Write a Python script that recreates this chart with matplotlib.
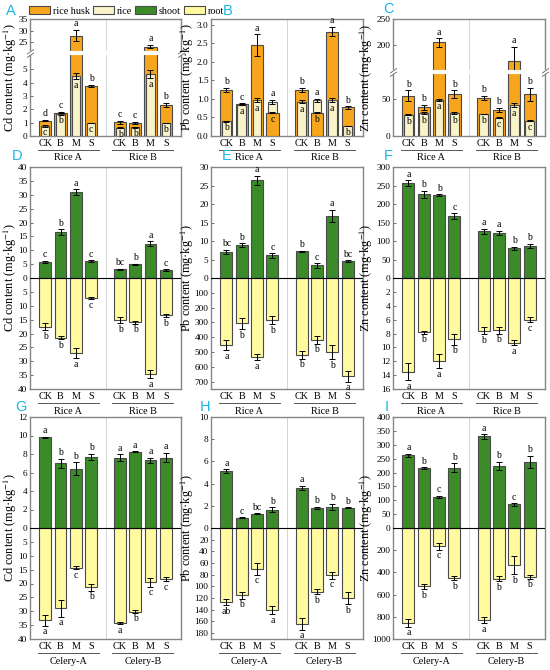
import numpy as np
import matplotlib
matplotlib.use("Agg")
import matplotlib.pyplot as plt
from matplotlib import transforms
from matplotlib.patches import Patch
from matplotlib.path import Path as MPath

plt.rcParams['font.family'] = ['Liberation Serif', 'DejaVu Serif']
plt.rcParams['mathtext.fontset'] = 'stix'

# ---- data ----
treatments = ['CK', 'B', 'M', 'S']
rice_groups = ['Rice A', 'Rice B']
celery_groups = ['Celery-A', 'Celery-B']

# top row: rice husk vs rice grain
cd_husk = [1.15, 1.74, 27.8, 3.75, 1.02, 0.98, 23.1, 2.35]
cd_husk_err = [0.06, 0.06, 2.5, 0.08, 0.10, 0.10, 0.8, 0.15]
cd_husk_let = ['d', 'c', 'a', 'b', 'c', 'c', 'a', 'b']
cd_rice = [0.75, 1.65, 4.5, 0.97, 0.62, 0.65, 4.65, 0.97]
cd_rice_err = [0.04, 0.05, 0.25, 0.03, 0.03, 0.03, 0.3, 0.03]
cd_rice_let = ['c', 'b', 'a', 'c', 'b', 'b', 'a', 'b']

pb_husk = [1.25, 0.86, 2.45, 0.63, 1.25, 0.63, 2.82, 0.77]
pb_husk_err = [0.05, 0.02, 0.30, 0.02, 0.05, 0.02, 0.12, 0.03]
pb_husk_let = ['b', 'c', 'a', 'c', 'b', 'b', 'a', 'b']
pb_rice = [0.40, 0.85, 0.97, 0.92, 0.93, 0.97, 0.97, 0.27]
pb_rice_err = [0.01, 0.02, 0.05, 0.05, 0.05, 0.04, 0.05, 0.01]
pb_rice_let = ['b', 'a', 'a', 'a', 'a', 'a', 'a', 'b']

zn_husk = [55, 39, 205, 57, 52, 35, 170, 57]
zn_husk_err = [7, 3, 8, 5, 3, 3, 27, 9]
zn_husk_let = ['b', 'b', 'a', 'b', 'b', 'b', 'a', 'b']
zn_rice = [29, 31, 49, 31, 30, 25, 42, 21]
zn_rice_err = [1, 1, 1, 1, 0.5, 1, 3, 1]
zn_rice_let = ['b', 'b', 'a', 'b', 'b', 'c', 'a', 'c']

# middle row: rice shoot / root
cd_shoot_r = [5.8, 16.5, 31.0, 6.0, 3.2, 5.0, 12.3, 2.8]
cd_shoot_r_err = [0.4, 1.0, 1.0, 0.4, 0.2, 0.2, 0.9, 0.3]
cd_shoot_r_let = ['c', 'b', 'a', 'c', 'bc', 'b', 'a', 'c']
cd_root_r = [17.5, 21.5, 27.0, 7.3, 15.2, 16.0, 34.5, 13.5]
cd_root_r_err = [1.2, 0.6, 1.8, 0.3, 1.0, 0.4, 1.5, 0.6]
cd_root_r_let = ['b', 'b', 'a', 'c', 'b', 'b', 'a', 'b']

pb_shoot_r = [7.1, 8.9, 26.4, 6.1, 7.2, 3.4, 16.8, 4.6]
pb_shoot_r_err = [0.5, 0.5, 1.3, 0.6, 0.2, 0.6, 1.7, 0.2]
pb_shoot_r_let = ['bc', 'b', 'a', 'c', 'b', 'c', 'a', 'bc']
pb_root_r = [453, 307, 535, 285, 520, 418, 500, 665]
pb_root_r_err = [35, 40, 20, 25, 25, 25, 50, 35]
pb_root_r_let = ['a', 'b', 'a', 'b', 'b', 'b', 'b', 'a']

zn_shoot_r = [256, 226, 224, 167, 126, 122, 81, 86]
zn_shoot_r_err = [8, 10, 2, 8, 6, 6, 4, 6]
zn_shoot_r_let = ['a', 'b', 'b', 'c', 'a', 'a', 'b', 'b']
zn_root_r = [13.5, 7.8, 12.0, 8.8, 7.6, 7.5, 9.3, 6.0]
zn_root_r_err = [1.2, 0.2, 1.0, 0.8, 0.5, 0.5, 0.4, 0.4]
zn_root_r_let = ['a', 'b', 'a', 'b', 'b', 'b', 'a', 'c']

# bottom row: celery shoot / root
cd_shoot_c = [9.8, 7.0, 6.4, 7.7, 7.6, 8.25, 7.3, 7.6]
cd_shoot_c_err = [0.05, 0.5, 0.7, 0.35, 0.35, 0.05, 0.3, 0.5]
cd_shoot_c_let = ['a', 'b', 'b', 'b', 'a', 'a', 'a', 'a']
cd_root_c = [33.2, 29.0, 14.3, 21.4, 34.2, 30.1, 19.6, 18.3]
cd_root_c_err = [2.0, 3.0, 0.6, 1.2, 0.4, 0.4, 1.5, 0.8]
cd_root_c_let = ['a', 'a', 'c', 'b', 'a', 'b', 'c', 'c']

pb_shoot_c = [5.15, 0.92, 1.3, 1.65, 3.6, 1.82, 1.9, 1.84]
pb_shoot_c_err = [0.15, 0.05, 0.02, 0.2, 0.2, 0.1, 0.25, 0.03]
pb_shoot_c_let = ['a', 'c', 'bc', 'b', 'a', 'b', 'b', 'b']
pb_root_c = [127, 115, 70, 140, 164, 109, 81, 120]
pb_root_c_err = [5, 6, 10, 7, 10, 4, 6, 10]
pb_root_c_let = ['ab', 'b', 'c', 'a', 'a', 'b', 'c', 'b']

zn_shoot_c = [262, 215, 112, 218, 330, 224, 85, 238]
zn_shoot_c_err = [5, 4, 3, 15, 8, 15, 4, 22]
zn_shoot_c_let = ['a', 'b', 'c', 'b', 'a', 'b', 'c', 'b']
zn_root_c = [855, 525, 165, 450, 830, 455, 335, 440]
zn_root_c_err = [35, 25, 30, 20, 25, 25, 80, 15]
zn_root_c_let = ['a', 'b', 'c', 'b', 'a', 'b', 'b', 'b']

# ---- style ----
C_HUSK, C_RICE = '#F7A51C', '#F8F3C8'
C_SHOOT, C_ROOT = '#3B8C28', '#FFFB9E'
EDGE = '#4a4a4a'
CYAN = '#19B4E6'
W, H = 550, 670
xpos = np.array([0, 1, 2, 3, 4.9, 5.9, 6.9, 7.9])
cols = [(30, 181), (211, 363), (393, 545)]
rows = [(19, 136), (167, 389), (417, 639)]
ylab_x = [10, 187, 366]


def make_ax(r, c):
    (x0, x1), (y0, y1) = cols[c], rows[r]
    return fig.add_axes([x0 / W, 1 - y1 / H, (x1 - x0) / W, (y1 - y0) / H])


def split_scale(k):        # positive side as is, negative side multiplied by k
    def fwd(y):
        y = np.asarray(y, float)
        return np.where(y >= 0, y, y * k)

    def inv(t):
        t = np.asarray(t, float)
        return np.where(t >= 0, t, t / k)
    return fwd, inv


def broken_scale(b1, b2, k, eps=1e-3):
    g = b1 + (b2 - b1) * eps

    def fwd(y):
        y = np.asarray(y, float)
        return np.where(y <= b1, y, np.where(y < b2, b1 + (y - b1) * eps, g + (y - b2) * k))

    def inv(t):
        t = np.asarray(t, float)
        return np.where(t <= b1, t, np.where(t < g, b1 + (t - b1) / eps, b2 + (t - g) / k))
    return fwd, inv


def common(ax, groups, c, ylabel):
    ax.set_xlim(-1, 8.9)
    ax.axvline(3.95, color='#d4d4d4', lw=0.7, zorder=0)
    for s in ax.spines.values():
        s.set_color('#858585')
        s.set_linewidth(1.0)
    ax.tick_params(axis='y', direction='in', length=2.5, width=0.6, labelsize=6.7, pad=1.8,
                   color='#555555')
    ax.tick_params(axis='x', length=0, labelsize=7.3, pad=2.5)
    ax.set_xticks(xpos)
    ax.set_xticklabels(treatments * 2)
    ax.yaxis.set_minor_locator(matplotlib.ticker.NullLocator())
    bt = transforms.blended_transform_factory(ax.transData, ax.transAxes)
    for gi, gname in enumerate(groups):
        xs = xpos[gi * 4:(gi + 1) * 4]
        ax.plot([xs[0] - 0.5, xs[-1] + 0.5], [0, 0], color='#555555', lw=0.7, clip_on=False,
                transform=bt + transforms.ScaledTranslation(0, -0.14, fig.dpi_scale_trans))
        ax.text(xs.mean(), 0, gname, ha='center', va='center', fontsize=7.3,
                transform=bt + transforms.ScaledTranslation(0, -0.22, fig.dpi_scale_trans))
    x0, x1 = cols[c]
    ax.set_ylabel(ylabel, fontsize=8.8, va='center')
    ax.yaxis.set_label_coords((ylab_x[c] - x0) / (x1 - x0), 0.5)


def letter(ax, x, y, s, up=True):
    ax.annotate(s, (x, y), xytext=(0, 1.2 if up else -1.2), textcoords='offset points',
                ha='center', va='bottom' if up else 'top', fontsize=7, zorder=8)


def top_panel(ax, husk, husk_err, husk_let, rice, rice_err, rice_let):
    for i, x in enumerate(xpos):
        hz, rz = (2, 3) if husk[i] >= rice[i] else (3, 2)
        ax.bar(x, husk[i], 0.8, color=C_HUSK, edgecolor=EDGE, lw=0.8, zorder=hz)
        ax.errorbar(x, husk[i], husk_err[i], fmt='none', ecolor='k', elinewidth=0.7,
                    capsize=2, capthick=0.7, zorder=hz + 0.5)
        ax.bar(x, rice[i], 0.55, color=C_RICE, edgecolor=EDGE, lw=0.8, zorder=rz)
        ax.errorbar(x, rice[i], rice_err[i], fmt='none', ecolor='k', elinewidth=0.7,
                    capsize=2, capthick=0.7, zorder=rz + 0.5)
        if husk[i] >= rice[i]:
            letter(ax, x, husk[i] + husk_err[i], husk_let[i], True)
            letter(ax, x, rice[i] - rice_err[i], rice_let[i], False)
        else:
            letter(ax, x, rice[i] + rice_err[i], rice_let[i], True)
            letter(ax, x, husk[i] - husk_err[i], husk_let[i], False)


def add_break(ax, b1):
    bt = transforms.blended_transform_factory(ax.transAxes, ax.transData)
    ax.plot([-0.012, 1.012], [b1, b1], color='white', lw=3, transform=bt, clip_on=False,
            zorder=6, solid_capstyle='butt')
    mk = MPath([(-1, -1.2), (1, 0.2), (-1, -0.2), (1, 1.2)],
               [MPath.MOVETO, MPath.LINETO, MPath.MOVETO, MPath.LINETO])
    ax.plot([0, 1], [b1, b1], ls='none', marker=mk, ms=6, mec='#666666', mew=0.6,
            transform=bt, clip_on=False, zorder=7)


def updown_panel(ax, shoot, shoot_err, shoot_let, root, root_err, root_let):
    ax.bar(xpos, shoot, 0.78, color=C_SHOOT, edgecolor=EDGE, lw=0.8, zorder=2)
    ax.errorbar(xpos, shoot, shoot_err, fmt='none', ecolor='k', elinewidth=0.7,
                capsize=2, capthick=0.7, zorder=3)
    neg = -np.asarray(root, float)
    ax.bar(xpos, neg, 0.78, color=C_ROOT, edgecolor=EDGE, lw=0.8, zorder=2)
    ax.errorbar(xpos, neg, root_err, fmt='none', ecolor='k', elinewidth=0.7,
                capsize=2, capthick=0.7, zorder=3)
    ax.axhline(0, color='black', lw=0.8, zorder=4)
    for i, x in enumerate(xpos):
        letter(ax, x, shoot[i] + shoot_err[i], shoot_let[i], True)
        letter(ax, x, neg[i] - root_err[i], root_let[i], False)


def set_updown_ticks(ax, top, bottom, pos_ticks, neg_ticks):
    ax.set_yscale('function', functions=split_scale(top / bottom))
    ax.set_ylim(-bottom, top)
    ticks = [-t for t in neg_ticks[::-1]] + list(pos_ticks)
    ax.set_yticks(ticks)
    ax.set_yticklabels([f'{abs(t):g}' for t in ticks])


fig = plt.figure(figsize=(W / 100, H / 100), dpi=100)

# ---- top row ----
axA = make_ax(0, 0)
axA.set_yscale('function', functions=broken_scale(6.2, 20.3, 0.173))
top_panel(axA, cd_husk, cd_husk_err, cd_husk_let, cd_rice, cd_rice_err, cd_rice_let)
axA.set_ylim(0, 35)
axA.set_yticks([0, 1, 2, 3, 4, 5, 25, 30, 35])
common(axA, rice_groups, 0, 'Cd content (mg·kg$^{-1}$)')
add_break(axA, 6.2)

axB = make_ax(0, 1)
top_panel(axB, pb_husk, pb_husk_err, pb_husk_let, pb_rice, pb_rice_err, pb_rice_let)
axB.set_ylim(0, 3.16)
axB.set_yticks(np.arange(0, 3.01, 0.5))
axB.yaxis.set_major_formatter(matplotlib.ticker.FormatStrFormatter('%.1f'))
common(axB, rice_groups, 1, 'Pb content (mg·kg$^{-1}$)')

axC = make_ax(0, 2)
axC.set_yscale('function', functions=broken_scale(87, 148, 0.708))
top_panel(axC, zn_husk, zn_husk_err, zn_husk_let, zn_rice, zn_rice_err, zn_rice_let)
axC.set_ylim(0, 250)
axC.set_yticks([0, 50, 200, 250])
common(axC, rice_groups, 2, 'Zn content (mg·kg$^{-1}$)')
add_break(axC, 87)

# ---- middle row ----
axD = make_ax(1, 0)
updown_panel(axD, cd_shoot_r, cd_shoot_r_err, cd_shoot_r_let, cd_root_r, cd_root_r_err, cd_root_r_let)
set_updown_ticks(axD, 40, 40, range(0, 41, 5), range(5, 41, 5))
common(axD, rice_groups, 0, 'Cd content (mg·kg$^{-1}$)')

axE = make_ax(1, 1)
updown_panel(axE, pb_shoot_r, pb_shoot_r_err, pb_shoot_r_let, pb_root_r, pb_root_r_err, pb_root_r_let)
set_updown_ticks(axE, 30, 750, range(0, 31, 5), range(100, 701, 100))
common(axE, rice_groups, 1, 'Pb content (mg·kg$^{-1}$)')

axF = make_ax(1, 2)
updown_panel(axF, zn_shoot_r, zn_shoot_r_err, zn_shoot_r_let, zn_root_r, zn_root_r_err, zn_root_r_let)
set_updown_ticks(axF, 300, 16, range(0, 301, 50), range(2, 17, 2))
common(axF, rice_groups, 2, 'Zn content (mg·kg$^{-1}$)')

# ---- bottom row ----
axG = make_ax(2, 0)
updown_panel(axG, cd_shoot_c, cd_shoot_c_err, cd_shoot_c_let, cd_root_c, cd_root_c_err, cd_root_c_let)
set_updown_ticks(axG, 12, 40, range(0, 13, 2), range(5, 41, 5))
common(axG, celery_groups, 0, 'Cd content (mg·kg$^{-1}$)')

axH = make_ax(2, 1)
updown_panel(axH, pb_shoot_c, pb_shoot_c_err, pb_shoot_c_let, pb_root_c, pb_root_c_err, pb_root_c_let)
set_updown_ticks(axH, 10, 190, range(0, 11, 2), range(20, 181, 20))
common(axH, celery_groups, 1, 'Pb content (mg·kg$^{-1}$)')

axI = make_ax(2, 2)
updown_panel(axI, zn_shoot_c, zn_shoot_c_err, zn_shoot_c_let, zn_root_c, zn_root_c_err, zn_root_c_let)
set_updown_ticks(axI, 400, 1000, range(0, 401, 50), range(200, 1001, 200))
common(axI, celery_groups, 2, 'Zn content (mg·kg$^{-1}$)')

# panel letters
for s, (px, py) in zip('ABCDEFGHI', [(11, 11), (228, 11), (389, 9), (17, 156), (227, 156),
                                       (388, 156), (21, 407), (205, 407), (387, 407)]):
    fig.text(px / W, 1 - py / H, s, color=CYAN, fontsize=10.5, ha='center', va='center',
             family=['Liberation Sans', 'DejaVu Sans'])

# legend
handles = [Patch(facecolor=c, edgecolor=EDGE, lw=0.8) for c in (C_HUSK, C_RICE, C_SHOOT, C_ROOT)]
fig.legend(handles, ['rice husk', 'rice', 'shoot', 'root'], loc='center left',
           bbox_to_anchor=(29 / W, 1 - 11 / H), ncol=4, frameon=False, fontsize=7.3,
           handlelength=2.1, handleheight=0.8, handletextpad=0.25, columnspacing=0.3,
           borderpad=0, borderaxespad=0)

fig.savefig('out.png', dpi=100)
